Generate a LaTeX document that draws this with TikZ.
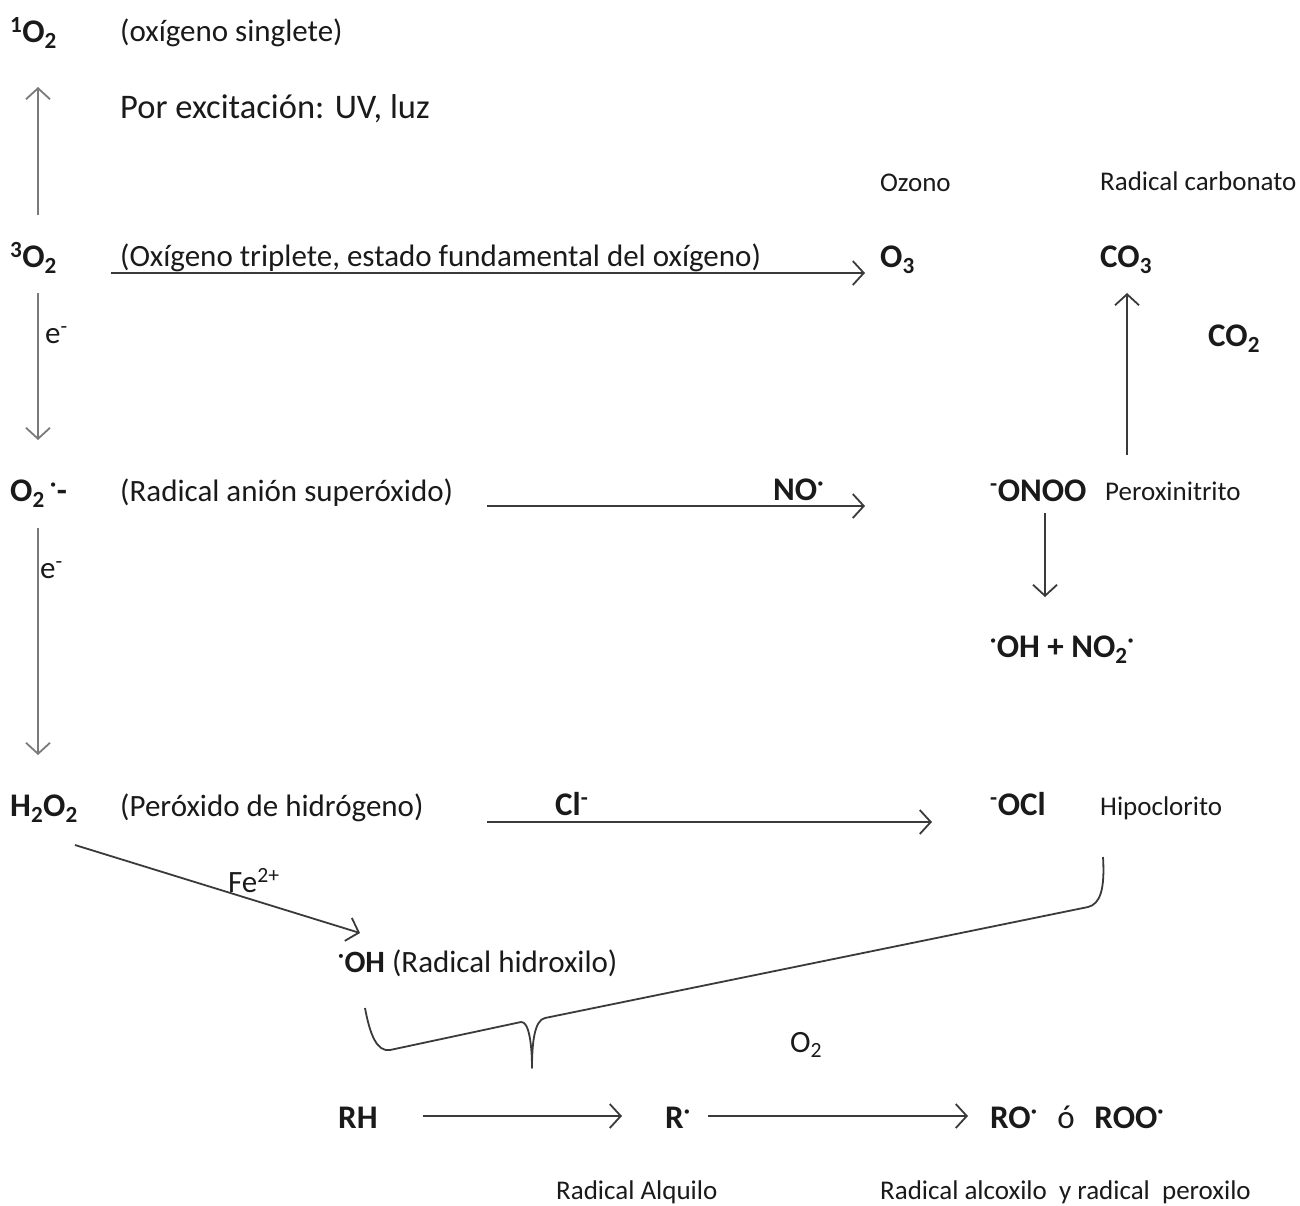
\documentclass[tikz,border=0pt]{standalone}
\usepackage{fontspec}
\setmainfont{Carlito}
\usetikzlibrary{arrows.meta}
\definecolor{txt}{HTML}{1A1A1A}
\definecolor{ln}{HTML}{3A3A3A}
\definecolor{lg}{HTML}{7A7A7A}
\newcommand{\rdot}{\textsuperscript{·}}
\newcommand{\rneg}{\textsuperscript{-}}
\begin{document}
\begin{tikzpicture}[x=1pt,y=-1pt,
 lab/.style={anchor=base west, inner sep=0pt, text=txt, font=\fontsize{31}{33}\selectfont},
 sml/.style={lab, font=\fontsize{27}{29}\selectfont},
 big/.style={lab, font=\fontsize{34.5}{37}\selectfont},
 frm/.style={lab, font=\fontsize{33}{35}\selectfont\bfseries},
 arr/.style={draw=ln, line width=1.8pt, -{Straight Barb[length=11pt,width=24pt,line width=1.8pt]}},
 arrg/.style={arr, draw=lg},
]
\useasboundingbox (0,0) rectangle (1300,1205);

% left column
\node[frm] (singO) at (10,42) {\textsuperscript{1}O\textsubscript{2}};
\node[lab] (singT) at (120,41) {(oxígeno singlete)};
\node[big] (exc) at (120,118) {Por excitación: UV, luz};
\node[frm] (tripO) at (10,267) {\textsuperscript{3}O\textsubscript{2}};
\node[lab] (tripT) at (120,266) {(Oxígeno triplete, estado fundamental del oxígeno)};
\node[lab] (e1) at (45,343) {e\rneg};
\node[frm] (supO) at (10,501) {O\textsubscript{2}\,\rdot-};
\node[lab] (supT) at (120,501) {(Radical anión superóxido)};
\node[lab] (e2) at (40,578) {e\rneg};
\node[frm] (hpO) at (10,816) {H\textsubscript{2}O\textsubscript{2}};
\node[lab] (hpT) at (120,816) {(Peróxido de hidrógeno)};

% top right
\node[sml] (ozT) at (880,191) {Ozono};
\node[frm] (oz) at (880,267) {O\textsubscript{3}};
\node[sml] (carbT) at (1100,190) {Radical carbonato};
\node[frm] (carb) at (1100,267) {CO\textsubscript{3}};
\node[frm] (co2) at (1208,346) {CO\textsubscript{2}};

% middle right
\node[frm] (no) at (773,500) {NO\rdot};
\node[frm] (onoo) at (990,501) {\rneg ONOO};
\node[sml] (onooT) at (1105,500) {Peroxinitrito};
\node[frm] (ohno) at (990,657) {\rdot OH + NO\textsubscript{2}\rdot};
\node[frm] (cl) at (555,815) {Cl\rneg};
\node[frm] (ocl) at (990,815) {\rneg OCl};
\node[sml] (oclT) at (1100,815) {Hipoclorito};

% lower
\node[lab] (fe) at (228,892) {Fe\textsuperscript{2+}};
\node[lab] (oh) at (338,972) {\textbf{\rdot OH} (Radical hidroxilo)};
\node[lab] (o2) at (790,1052) {O\textsubscript{2}};
\node[frm] (rh) at (338,1128) {RH};
\node[frm] (r) at (665,1128) {R\rdot};
\node[frm] (ro) at (990,1128) {RO\rdot\hspace{0.6em}\mdseries ó\hspace{0.6em}\bfseries ROO\rdot};
\node[sml] (alqT) at (556,1199) {Radical Alquilo};
\node[sml] (alcT) at (880,1199) {Radical alcoxilo\ \ y radical\ \ peroxilo};

% arrow ends
\coordinate (a1s) at (38,215);  \coordinate (a1e) at (38,87);
\coordinate (a2s) at (111,273); \coordinate (a2e) at (865,273);
\coordinate (a3s) at (38,293);  \coordinate (a3e) at (38,440);
\coordinate (a4s) at (487,506); \coordinate (a4e) at (865,506);
\coordinate (a5s) at (38,528);  \coordinate (a5e) at (38,755);
\coordinate (a6s) at (487,822); \coordinate (a6e) at (932,822);
\coordinate (a7s) at (1045,513); \coordinate (a7e) at (1045,597);
\coordinate (a8s) at (1127,455); \coordinate (a8e) at (1127,293);
\coordinate (a9s) at (75,845);  \coordinate (a9e) at (360,933);
\coordinate (a10s) at (423,1116); \coordinate (a10e) at (622,1116);
\coordinate (a11s) at (708,1116); \coordinate (a11e) at (968,1116);

\draw[arrg] (a1s) -- (a1e);
\draw[arr] (a2s) -- (a2e);
\draw[arrg] (a3s) -- (a3e);
\draw[arr] (a4s) -- (a4e);
\draw[arrg] (a5s) -- (a5e);
\draw[arr] (a6s) -- (a6e);
\draw[arr] (a7s) -- (a7e);
\draw[arr] (a8s) -- (a8e);
\draw[arr] (a9s) -- (a9e);
\draw[arr] (a10s) -- (a10e);
\draw[arr] (a11s) -- (a11e);

% brace
\draw[draw=ln, line width=1.8pt, line join=round]
 (365,1008) .. controls (370,1035) and (377,1052) .. (390,1050)
 -- (521,1022) .. controls (529,1021) and (532,1045) .. (532,1068)
 .. controls (532,1045) and (534,1020) .. (545,1018)
 -- (1088,907) .. controls (1100,904) and (1105,890) .. (1103,857);
\end{tikzpicture}
\end{document}
